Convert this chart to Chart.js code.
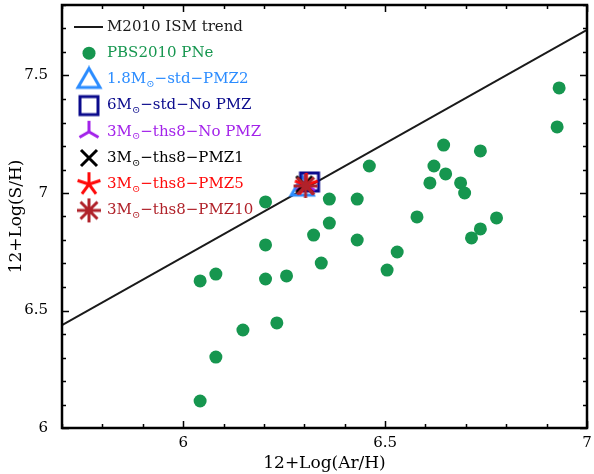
<!DOCTYPE html>
<html>
<head>
<meta charset="utf-8">
<script src="https://cdn.jsdelivr.net/npm/chart.js@4.4.0/dist/chart.umd.min.js"></script>
<style>
  html, body { margin: 0; padding: 0; background: #fff; }
  #wrap { width: 594px; height: 474px; }
</style>
</head>
<body>
<div id="wrap"><canvas id="chart"></canvas></div>
<script>
// data
const trendAr = [5.7, 7.0];
const trendS = [6.438, 7.694];

const pneAr = [6.042, 6.081, 6.042, 6.081, 6.148, 6.204, 6.204, 6.204, 6.232, 6.256,
               6.323, 6.342, 6.362, 6.362, 6.431, 6.431, 6.461, 6.505, 6.530, 6.579,
               6.611, 6.621, 6.645, 6.650, 6.687, 6.697, 6.714, 6.736, 6.736, 6.776,
               6.926, 6.931];
const pneS = [6.115, 6.302, 6.626, 6.655, 6.417, 6.634, 6.779, 6.962, 6.447, 6.647,
              6.821, 6.702, 6.974, 6.872, 6.974, 6.800, 7.115, 6.672, 6.749, 6.898,
              7.043, 7.115, 7.204, 7.081, 7.043, 7.000, 6.809, 6.847, 7.179, 6.894,
              7.281, 7.447];

const modelLabels = ['1.8M⊙−std−PMZ2', '6M⊙−std−No PMZ', '3M⊙−ths8−No PMZ',
                     '3M⊙−ths8−PMZ1', '3M⊙−ths8−PMZ5', '3M⊙−ths8−PMZ10'];
const modelAr = [6.295, 6.313, 6.303, 6.300, 6.305, 6.303];
const modelS = [7.025, 7.047, 7.035, 7.037, 7.035, 7.030];

const xTickLabels = ['6', '6.5', '7'];
const yTickLabels = ['6', '6.5', '7', '7.5'];

// styles
const green = '#16964f';
const modelStyles = [
    { kind: 'triangle', color: '#2b8cff' },
    { kind: 'square', color: '#0a0a8c' },
    { kind: 'tri', color: '#a322ea' },
    { kind: 'x', color: '#000000' },
    { kind: 'star5', color: '#ff0a0a' },
    { kind: 'star8', color: '#b0222a' }
];
const serif = '"DejaVu Serif", serif';

function makeMarker(kind, color) {
    const s = 28, c = s / 2;
    const cv = document.createElement('canvas');
    cv.width = s; cv.height = s;
    const g = cv.getContext('2d');
    g.strokeStyle = color;
    g.lineWidth = 3;
    g.lineCap = 'butt';
    g.beginPath();
    if (kind === 'triangle') {
        g.lineJoin = 'miter';
        g.moveTo(c, c - 11);
        g.lineTo(c + 11, c + 8);
        g.lineTo(c - 11, c + 8);
        g.closePath();
    } else if (kind === 'square') {
        g.rect(c - 9, c - 9, 18, 18);
    } else if (kind === 'tri') {
        [90, 210, 330].forEach(a => {
            const r = a * Math.PI / 180;
            g.moveTo(c, c);
            g.lineTo(c + 11 * Math.cos(r), c - 11 * Math.sin(r));
        });
    } else if (kind === 'x') {
        g.moveTo(c - 8, c - 8); g.lineTo(c + 8, c + 8);
        g.moveTo(c + 8, c - 8); g.lineTo(c - 8, c + 8);
    } else if (kind === 'star5') {
        for (let i = 0; i < 5; i++) {
            const r = (90 + i * 72) * Math.PI / 180;
            g.moveTo(c, c);
            g.lineTo(c + 12 * Math.cos(r), c - 12 * Math.sin(r));
        }
    } else if (kind === 'star8') {
        for (let i = 0; i < 8; i++) {
            const r = i * 45 * Math.PI / 180;
            g.moveTo(c, c);
            g.lineTo(c + 12 * Math.cos(r), c - 12 * Math.sin(r));
        }
    }
    g.stroke();
    return cv;
}

const markers = modelStyles.map(m => makeMarker(m.kind, m.color));

const datasets = [
    {
        label: 'M2010 ISM trend',
        type: 'line',
        data: trendAr.map((x, i) => ({ x: x, y: trendS[i] })),
        borderColor: '#1a1a1a',
        borderWidth: 2,
        pointRadius: 0,
        fill: false,
        order: 7,
        legendKind: 'line',
        legendColor: '#1a1a1a'
    },
    {
        label: 'PBS2010 PNe',
        data: pneAr.map((x, i) => ({ x: x, y: pneS[i] })),
        backgroundColor: green,
        borderWidth: 0,
        pointRadius: 6.5,
        order: 8,
        legendKind: 'dot',
        legendColor: green
    }
];
modelLabels.forEach((lab, i) => {
    datasets.push({
        label: lab,
        data: [{ x: modelAr[i], y: modelS[i] }],
        pointStyle: markers[i],
        pointRadius: 12,
        order: 6 - i,
        legendKind: 'image',
        legendImage: markers[i],
        legendColor: modelStyles[i].color
    });
});

function isHalf(v) {
    return Math.abs(v * 2 - Math.round(v * 2)) < 1e-6;
}
function fmt(v) {
    return String(Math.round(v * 10) / 10);
}

// frame + inward ticks on all four sides
const framePlugin = {
    id: 'frame',
    afterDatasetsDraw(chart) {
        const ctx = chart.ctx, a = chart.chartArea;
        const xs = chart.scales.x, ys = chart.scales.y;
        ctx.save();
        ctx.strokeStyle = '#000';
        ctx.lineWidth = 1.5;
        ctx.beginPath();
        xs.ticks.forEach(t => {
            const px = Math.round(xs.getPixelForValue(t.value)) + 0.5;
            const len = isHalf(t.value) ? 7 : 4;
            ctx.moveTo(px, a.bottom); ctx.lineTo(px, a.bottom - len);
            ctx.moveTo(px, a.top); ctx.lineTo(px, a.top + len);
        });
        ys.ticks.forEach(t => {
            const py = Math.round(ys.getPixelForValue(t.value)) + 0.5;
            const len = isHalf(t.value) ? 7 : 4;
            ctx.moveTo(a.left, py); ctx.lineTo(a.left + len, py);
            ctx.moveTo(a.right, py); ctx.lineTo(a.right - len, py);
        });
        ctx.stroke();
        ctx.lineWidth = 2.5;
        ctx.strokeRect(a.left, a.top, a.right - a.left, a.bottom - a.top);
        ctx.restore();
    }
};

// legend drawn inside the plot area, each label in its series colour
const legendPlugin = {
    id: 'insideLegend',
    afterDraw(chart) {
        const ctx = chart.ctx;
        const mx = 89, tx = 107, y0 = 27, dy = 26.2;
        ctx.save();
        ctx.textBaseline = 'middle';
        chart.data.datasets.forEach((ds, i) => {
            const y = y0 + i * dy;
            if (ds.legendKind === 'line') {
                ctx.strokeStyle = ds.legendColor;
                ctx.lineWidth = 2;
                ctx.beginPath();
                ctx.moveTo(mx - 15, y); ctx.lineTo(mx + 14, y);
                ctx.stroke();
            } else if (ds.legendKind === 'dot') {
                ctx.fillStyle = ds.legendColor;
                ctx.beginPath();
                ctx.arc(mx, y, 6.5, 0, Math.PI * 2);
                ctx.fill();
            } else {
                const im = ds.legendImage;
                ctx.drawImage(im, mx - im.width / 2, y - im.height / 2);
            }
            ctx.fillStyle = ds.legendColor;
            let x = tx;
            const parts = ds.label.split('⊙');
            parts.forEach((p, k) => {
                ctx.font = '15px ' + serif;
                ctx.fillText(p, x, y);
                x += ctx.measureText(p).width;
                if (k < parts.length - 1) {
                    ctx.font = '10px ' + serif;
                    ctx.fillText('⊙', x, y + 5);
                    x += ctx.measureText('⊙').width;
                }
            });
        });
        ctx.restore();
    }
};

new Chart(document.getElementById('chart'), {
    type: 'scatter',
    data: { datasets: datasets },
    options: {
        responsive: true,
        maintainAspectRatio: false,
        animation: false,
        layout: { autoPadding: false, padding: { top: 5, right: 7, left: 0, bottom: 0 } },
        plugins: {
            legend: { display: false },
            tooltip: { enabled: false }
        },
        scales: {
            x: {
                type: 'linear',
                min: 5.7,
                max: 7.0,
                afterFit: s => { s.height = 46; s.paddingLeft = 0; s.paddingRight = 0; },
                grid: { display: false, drawTicks: false },
                border: { display: false },
                ticks: {
                    stepSize: 0.1,
                    maxTicksLimit: 100,
                    autoSkip: false,
                    maxRotation: 0,
                    padding: 6,
                    color: '#000',
                    font: { family: serif, size: 15 },
                    callback: v => (isHalf(v) && xTickLabels.includes(fmt(v))) ? fmt(v) : ''
                },
                title: {
                    display: true,
                    text: '12+Log(Ar/H)',
                    color: '#000',
                    font: { family: serif, size: 17 },
                    padding: { top: 0, bottom: 0 }
                }
            },
            y: {
                type: 'linear',
                min: 6.0,
                max: 7.8,
                afterFit: s => { s.width = 62; s.paddingTop = 0; s.paddingBottom = 0; },
                grid: { display: false, drawTicks: false },
                border: { display: false },
                ticks: {
                    stepSize: 0.1,
                    maxTicksLimit: 100,
                    autoSkip: false,
                    padding: 14,
                    color: '#000',
                    font: { family: serif, size: 15 },
                    callback: v => (isHalf(v) && yTickLabels.includes(fmt(v))) ? fmt(v) : ''
                },
                title: {
                    display: true,
                    text: '12+Log(S/H)',
                    color: '#000',
                    font: { family: serif, size: 17 },
                    padding: { top: 6, bottom: 0 }
                }
            }
        }
    },
    plugins: [framePlugin, legendPlugin]
});
</script>
</body>
</html>
